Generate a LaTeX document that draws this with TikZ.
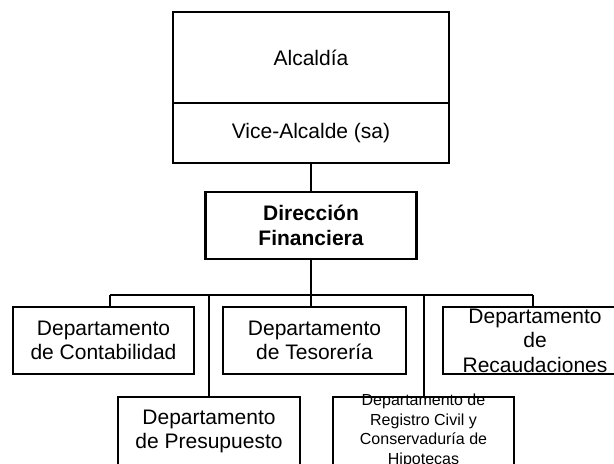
\documentclass[tikz,border=0pt]{standalone}
\usepackage{fontspec}
\setmainfont{Liberation Sans}
\begin{document}
\begin{tikzpicture}[x=1bp,y=-1bp,
  big/.style={font=\fontsize{21bp}{24.5bp}\selectfont, align=center},
  small/.style={font=\fontsize{16bp}{19.5bp}\selectfont, align=center},
  topbox/.style={draw, line width=2bp, inner sep=0pt, minimum width=276bp},
  dirbox/.style={draw, line width=2.2bp, inner sep=0pt, minimum width=211bp, minimum height=67bp},
  deptbox/.style={draw, line width=1.8bp, inner sep=0pt, minimum height=67bp},
  lowbox/.style={draw, line width=1.8bp, inner sep=0pt, minimum height=69bp},
  conn/.style={line width=1.8bp}]
\useasboundingbox (0,0) rectangle (614,464);
\clip (0,0) rectangle (614,464);
\fill[white] (0,0) rectangle (614,464);
% top block
\node[topbox, minimum height=91bp, big] (alc) at (311,57.5) {Alcaldía};
\node[topbox, minimum height=60bp, big] (vice) at (311,133) {Vice-Alcalde (sa)};
% direction
\node[dirbox, big] (dir) at (311,225.5) {\bfseries Dirección\\\bfseries Financiera};
% departments, first row
\node[deptbox, minimum width=181bp, big] (cont) at (103.5,340.5) {Departamento\\de Contabilidad};
\node[deptbox, minimum width=183bp, big] (teso) at (314.5,340.5) {Departamento\\de Tesorería};
\node[deptbox, minimum width=184bp] (reca) at (535,340.5) {};
\node[big] (recat) at (reca.center) {Departamento\\de\\Recaudaciones};
% second row
\node[lowbox, minimum width=182bp, big] (pres) at (209,431.5) {Departamento\\de Presupuesto};
\node[lowbox, minimum width=181bp] (reg) at (423.5,431.5) {};
\node[small] (regt) at (423.5,431) {Departamento de\\Registro Civil y\\Conservaduría de\\Hipotecas};
% connectors
\coordinate (busL) at (110,295);
\coordinate (busR) at (533,295);
\coordinate (busP) at (209,295);
\coordinate (busG) at (424,295);
\draw[conn] (vice.south) -- (dir.north);
\draw[conn] (dir.south) -- (dir.south |- teso.north);
\draw[conn] (busL) -- (busR);
\draw[conn] (busL) -- (busL |- cont.north);
\draw[conn] (busP) -- (pres.north);
\draw[conn] (busG) -- (busG |- reg.north);
\draw[conn] (busR) -- (busR |- reca.north);
\end{tikzpicture}
\end{document}
